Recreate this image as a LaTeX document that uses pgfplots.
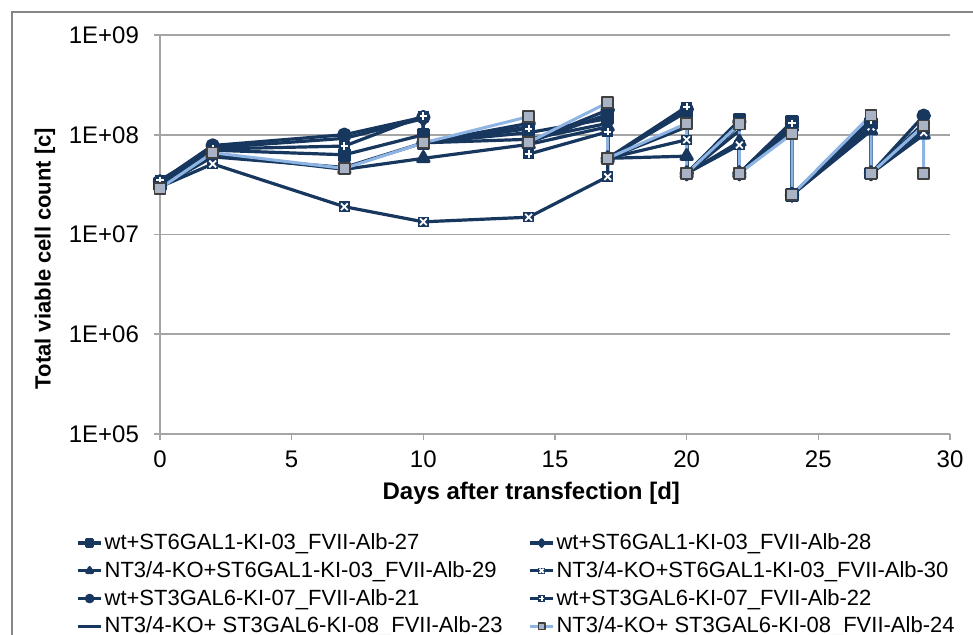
\documentclass[border=0pt]{standalone}
\usepackage{pgfplots}
\pgfplotsset{compat=1.18}
\usepackage{fontspec}
\setmainfont{Liberation Sans}

\definecolor{navy}{RGB}{23,55,94}
\definecolor{lightblu}{RGB}{142,180,227}
\definecolor{gridgray}{RGB}{165,165,165}
\definecolor{framegray}{RGB}{134,134,134}
\definecolor{sqfill}{RGB}{168,180,198}

% navy box with a white x / white plus inside
\pgfdeclareplotmark{boxx}{%
  \pgfpathrectangle{\pgfqpoint{-\pgfplotmarksize}{-\pgfplotmarksize}}{\pgfqpoint{2\pgfplotmarksize}{2\pgfplotmarksize}}%
  \pgfusepath{fill}%
  \pgfsetstrokecolor{white}\pgfsetlinewidth{0.9pt}%
  \pgfpathmoveto{\pgfqpoint{-0.65\pgfplotmarksize}{-0.65\pgfplotmarksize}}%
  \pgfpathlineto{\pgfqpoint{0.65\pgfplotmarksize}{0.65\pgfplotmarksize}}%
  \pgfpathmoveto{\pgfqpoint{-0.65\pgfplotmarksize}{0.65\pgfplotmarksize}}%
  \pgfpathlineto{\pgfqpoint{0.65\pgfplotmarksize}{-0.65\pgfplotmarksize}}%
  \pgfusepath{stroke}}
\pgfdeclareplotmark{boxplus}{%
  \pgfpathrectangle{\pgfqpoint{-\pgfplotmarksize}{-\pgfplotmarksize}}{\pgfqpoint{2\pgfplotmarksize}{2\pgfplotmarksize}}%
  \pgfusepath{fill}%
  \pgfsetstrokecolor{white}\pgfsetlinewidth{0.9pt}%
  \pgfpathmoveto{\pgfqpoint{-0.7\pgfplotmarksize}{0pt}}%
  \pgfpathlineto{\pgfqpoint{0.7\pgfplotmarksize}{0pt}}%
  \pgfpathmoveto{\pgfqpoint{0pt}{0.7\pgfplotmarksize}}%
  \pgfpathlineto{\pgfqpoint{0pt}{-0.7\pgfplotmarksize}}%
  \pgfusepath{stroke}}

\begin{document}
\begin{tikzpicture}
\begin{axis}[
    scale only axis,
    width=395pt, height=199.5pt,
    ymode=log,
    xmin=0, xmax=30, ymin=1e5, ymax=1e9,
    xtick={0,5,...,30},
    ytick={1e5,1e6,1e7,1e8,1e9},
    yticklabels={1E+05,1E+06,1E+07,1E+08,1E+09},
    yminorticks=false,
    /pgf/number format/assume math mode=true,
    axis lines*=left,
    axis line style={gridgray, line width=0.8pt},
    ymajorgrids,
    major grid style={gridgray, line width=0.8pt},
    tick align=outside,
    major tick length=3pt,
    tick style={gridgray, line width=0.8pt},
    ticklabel style={font=\fontsize{12}{14}\selectfont},
    yticklabel style={xshift=-4pt},
    xticklabel style={yshift=-2pt},
    xlabel={Days after transfection [d]},
    ylabel={Total viable cell count [c]},
    xlabel style={font=\fontsize{12}{14}\selectfont\bfseries,
        at={(axis description cs:0.47,-0.148)}, anchor=center},
    ylabel style={font=\fontsize{11}{13}\selectfont\bfseries,
        at={(axis description cs:-0.1456,0.44)}, anchor=center},
    clip=false,
    legend columns=2,
    legend cell align=left,
    legend style={draw=none, fill=none, inner sep=0pt,
        at={(axis description cs:-0.106,-0.2436)}, anchor=north west,
        font=\fontsize{11}{13}\selectfont,
        nodes={inner sep=1pt}, row sep=2.4pt, column sep=0pt},
    legend image code/.code={%
        \draw[mark repeat=2,mark phase=2,mark size=1.6pt]
        plot coordinates {(0cm,0cm) (0.2cm,0cm) (0.4cm,0cm)};},
    every axis plot/.append style={line width=1.6pt, line join=round},
]

% wt+ST6GAL1-KI-03_FVII-Alb-27
\addplot[navy, mark=square*, mark size=2.6pt, mark options={solid}] coordinates {
 (0,3.2e7) (2,7.0e7) (7,6.3e7) (10,1.0e8) (10,8.3e7) (14,1.05e8)
 (17,1.45e8) (17,5.8e7) (20,1.7e8) (20,4.1e7) (22,1.4e8) (22,4.1e7)
 (24,1.35e8) (24,2.5e7) (27,1.3e8) (27,4.1e7) (29,1.15e8)
};
\addlegendentry{\makebox[211pt][l]{wt+ST6GAL1-KI-03\_FVII-Alb-27}}

% wt+ST6GAL1-KI-03_FVII-Alb-28
\addplot[navy, mark=diamond*, mark size=3.2pt, mark options={solid}] coordinates {
 (0,3.3e7) (2,7.4e7) (7,9.2e7) (10,1.45e8) (10,8.3e7) (14,1.2e8) (14,8.4e7)
 (17,1.6e8) (17,5.8e7) (20,1.75e8) (20,4.1e7) (22,1.3e8) (22,4.1e7)
 (24,1.25e8) (24,2.5e7) (27,1.2e8) (27,4.1e7) (29,1.3e8)
};
\addlegendentry{wt+ST6GAL1-KI-03\_FVII-Alb-28}

% NT3/4-KO+ST6GAL1-KI-03_FVII-Alb-29
\addplot[navy, mark=triangle*, mark size=3.2pt, mark options={solid}] coordinates {
 (0,3.1e7) (2,6.4e7) (7,4.5e7) (10,5.8e7) (14,8.0e7)
 (17,1.2e8) (17,5.8e7) (20,6.1e7) (20,4.1e7) (22,8.5e7) (22,4.1e7)
 (24,1.2e8) (24,2.5e7) (27,1.1e8) (27,4.1e7) (29,1.0e8)
};
\addlegendentry{\makebox[211pt][l]{NT3/4-KO+ST6GAL1-KI-03\_FVII-Alb-29}}

% NT3/4-KO+ST6GAL1-KI-03_FVII-Alb-30
\addplot[navy, mark=boxx, mark size=2.6pt, mark options={solid, fill=navy}] coordinates {
 (0,3.0e7) (2,5.1e7) (7,1.9e7) (10,1.34e7) (14,1.49e7)
 (17,3.8e7) (17,5.8e7) (20,8.9e7) (20,4.1e7) (22,7.9e7) (22,4.1e7)
 (24,1.1e8) (24,2.5e7) (27,1.2e8) (27,4.1e7) (29,1.05e8)
};
\addlegendentry{NT3/4-KO+ST6GAL1-KI-03\_FVII-Alb-30}

% wt+ST3GAL6-KI-07_FVII-Alb-21
\addplot[navy, mark=*, mark size=2.8pt, mark options={solid}] coordinates {
 (0,3.4e7) (2,7.8e7) (7,1.0e8) (10,1.5e8) (10,8.3e7) (14,1.3e8) (14,8.4e7)
 (17,1.77e8) (17,5.8e7) (20,1.8e8) (20,4.1e7) (22,1.35e8) (22,4.1e7)
 (24,1.3e8) (24,2.5e7) (27,1.35e8) (27,4.1e7) (29,1.55e8)
};
\addlegendentry{\makebox[211pt][l]{wt+ST3GAL6-KI-07\_FVII-Alb-21}}

% wt+ST3GAL6-KI-07_FVII-Alb-22
\addplot[navy, mark=boxplus, mark size=2.6pt, mark options={solid, fill=navy}] coordinates {
 (0,3.5e7) (2,7.2e7) (7,7.7e7) (10,1.54e8) (10,8.3e7) (14,1.15e8) (14,6.4e7)
 (17,1.07e8) (17,5.8e7) (20,1.91e8) (20,4.1e7) (22,1.25e8) (22,4.1e7)
 (24,1.3e8) (24,2.5e7) (27,1.4e8) (27,4.1e7) (29,1.2e8)
};
\addlegendentry{wt+ST3GAL6-KI-07\_FVII-Alb-22}

% NT3/4-KO+ ST3GAL6-KI-08_FVII-Alb-23
\addplot[navy, no marks] coordinates {
 (0,3.0e7) (2,6.0e7) (7,4.7e7) (10,8.3e7) (14,9.0e7)
 (17,1.3e8) (17,5.8e7) (20,1.2e8) (20,4.1e7) (22,1.1e8) (22,4.1e7)
 (24,1.15e8) (24,2.5e7) (27,1.25e8) (27,4.1e7) (29,1.1e8)
};
\addlegendentry{\makebox[211pt][l]{NT3/4-KO+ ST3GAL6-KI-08\_FVII-Alb-23}}

% NT3/4-KO+ ST3GAL6-KI-08_FVII-Alb-24
\addplot[lightblu, line width=1.5pt, mark=square*, mark size=2.7pt,
    mark options={solid, fill=sqfill, draw=black!75, line width=0.8pt}] coordinates {
 (0,2.9e7) (2,6.6e7) (7,4.6e7) (10,8.3e7) (14,1.52e8) (14,8.4e7)
 (17,2.1e8) (17,5.8e7) (20,1.3e8) (20,4.1e7) (22,1.28e8) (22,4.1e7)
 (24,1.02e8) (24,2.5e7) (27,1.57e8) (27,4.1e7) (29,1.23e8) (29,4.1e7)
};
\addlegendentry{NT3/4-KO+ ST3GAL6-KI-08\_FVII-Alb-24}

\end{axis}
\pgfresetboundingbox
\useasboundingbox (-80pt,-100.5pt) rectangle (406.5pt,217pt);
\draw[framegray, line width=0.8pt] (-74pt,-101pt) -- (-74pt,211pt) -- (407pt,211pt);
\end{tikzpicture}
\end{document}
